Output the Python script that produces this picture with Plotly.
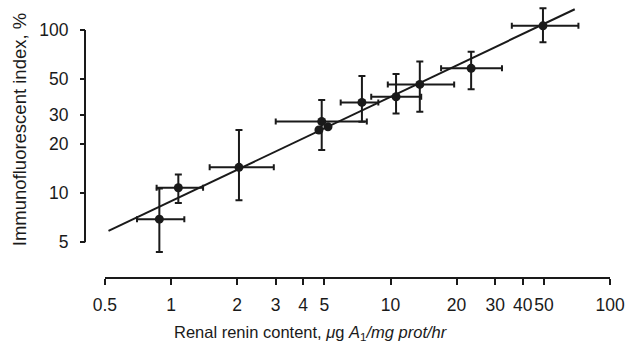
import plotly.graph_objects as go

# ---- data ----
x_mean = [0.885, 1.08, 2.04, 4.86, 7.41, 10.6, 13.6, 23.3, 49.5]
y_mean = [6.93, 10.8, 14.4, 27.5, 36.0, 39.0, 46.4, 58.2, 106.0]
x_lo = [0.70, 0.86, 1.50, 3.00, 5.93, 8.17, 9.72, 17.0, 35.7]
x_hi = [1.15, 1.40, 2.94, 7.80, 8.80, 13.8, 19.5, 32.2, 71.8]
y_lo = [4.36, 8.72, 9.06, 18.4, 27.4, 30.8, 31.5, 43.3, 84.1]
y_hi = [10.7, 13.0, 24.4, 37.2, 52.2, 53.7, 64.0, 73.6, 136.0]

extra_x = [4.72, 5.19]
extra_y = [24.4, 25.5]

fit_x = [0.519, 69.1]
fit_y = [5.87, 134.0]

x_ticks = [0.5, 1, 2, 3, 4, 5, 10, 20, 30, 40, 50, 100]
x_ticktext = ["0.5", "1", "2", "3", "4", "5", "10", "20", "30", "40", "50", "100"]
y_ticks = [5, 10, 20, 30, 50, 100]
y_ticktext = ["5", "10", "20", "30", "50", "100"]

INK = "#1a1a1a"
FONT = "Liberation Sans, Arial, sans-serif"

fig = go.Figure()

fig.add_trace(go.Scatter(
    x=fit_x, y=fit_y, mode="lines",
    line=dict(color=INK, width=2), hoverinfo="skip", showlegend=False))

fig.add_trace(go.Scatter(
    x=x_mean, y=y_mean, mode="markers",
    marker=dict(color=INK, size=9),
    error_x=dict(type="data", symmetric=False,
                 array=[h - m for h, m in zip(x_hi, x_mean)],
                 arrayminus=[m - l for l, m in zip(x_lo, x_mean)],
                 color=INK, thickness=2, width=3),
    error_y=dict(type="data", symmetric=False,
                 array=[h - m for h, m in zip(y_hi, y_mean)],
                 arrayminus=[m - l for l, m in zip(y_lo, y_mean)],
                 color=INK, thickness=2, width=3.5),
    showlegend=False))

fig.add_trace(go.Scatter(
    x=extra_x, y=extra_y, mode="markers",
    marker=dict(color=INK, size=9), showlegend=False))

fig.update_layout(
    width=630, height=342,
    margin=dict(l=85, r=18, t=5, b=65),
    paper_bgcolor="white", plot_bgcolor="white",
    font=dict(family=FONT, color=INK, size=17.5),
    xaxis=dict(
        type="log", range=[-0.30103, 2.0], domain=[20 / 527, 1],
        tickvals=x_ticks, ticktext=x_ticktext, tickangle=0,
        ticks="outside", ticklen=6, tickwidth=2, tickcolor=INK,
        showline=True, linewidth=2, linecolor=INK,
        showgrid=False, zeroline=False,
        tickfont=dict(size=17.5), ticklabelstandoff=5),
    yaxis=dict(
        type="log", range=[0.4865, 2.153],
        anchor="free", position=0,
        tickvals=y_ticks, ticktext=y_ticktext,
        ticks="outside", ticklen=5, tickwidth=2, tickcolor=INK,
        showline=False, showgrid=False, zeroline=False,
        tickfont=dict(size=17.5), ticklabelstandoff=8),
    shapes=[dict(type="line", xref="paper", yref="y",
                 x0=0, x1=0, y0=5, y1=100,
                 line=dict(color=INK, width=2))],
    annotations=[
        dict(text="Renal renin content, <i>μ</i>g <i>A</i><sub>1</sub><i>/mg prot/hr</i>",
             xref="paper", yref="paper", x=0.4306, y=-0.205,
             xanchor="center", yanchor="middle", showarrow=False,
             font=dict(size=16.5)),
        dict(text="Immunofluorescent index, %",
             xref="paper", yref="paper", x=-0.1255, y=0.54,
             xanchor="center", yanchor="middle", textangle=-90,
             showarrow=False, font=dict(size=18.5)),
    ],
)

fig.write_html("out.html", config={"displayModeBar": False},
               post_script="document.body.style.margin='0px';document.body.style.overflow='hidden';")
